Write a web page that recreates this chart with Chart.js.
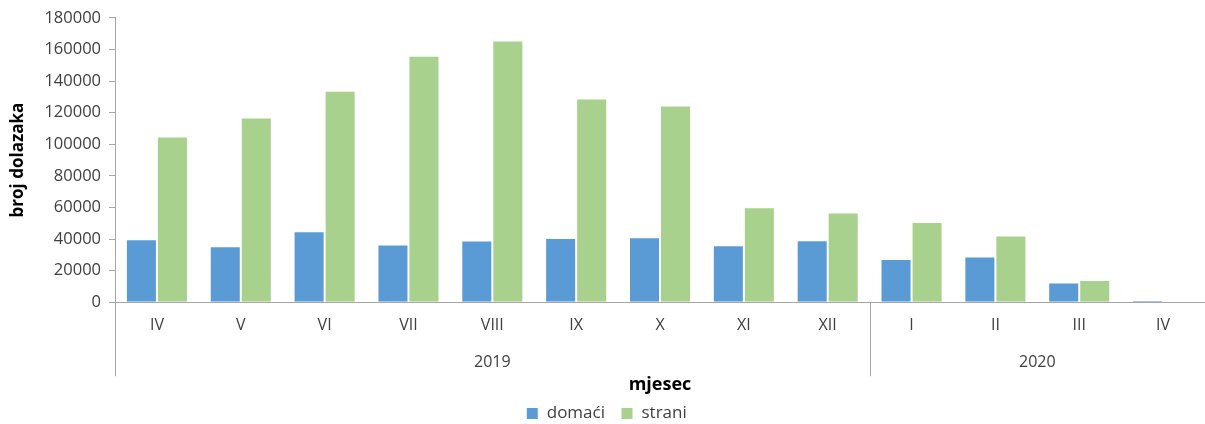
<!DOCTYPE html>
<html>
<head>
<meta charset="utf-8">
<script src="https://cdn.jsdelivr.net/npm/chart.js@4"></script>
<style>
  body { margin: 0; background: #fff; }
  #wrap { width: 1205px; height: 424px; position: relative; }
</style>
</head>
<body>
<div id="wrap"><canvas id="chart"></canvas></div>
<script>
const months = ["IV", "V", "VI", "VII", "VIII", "IX", "X", "XI", "XII", "I", "II", "III", "IV"];
const years = ["2019", "2020"];
const yearStart = [0, 9]; // index of first month of each year
const domaci = [39800, 35500, 45000, 36600, 39100, 40600, 41200, 36000, 39300, 27300, 29000, 12400, 1300];
const strani = [104900, 116900, 133900, 156000, 165700, 128900, 124500, 60100, 56800, 50700, 42300, 14100, 0];

const font = "'Open Sans', 'DejaVu Sans', sans-serif";
const textColor = "#404040";
const axisColor = "#a6a6a6";

// second label row (years) and the group separators under the months
const yearRow = {
  id: "yearRow",
  afterDraw(chart) {
    const x = chart.scales.x;
    const ctx = chart.ctx;
    const half = (x.getPixelForValue(1) - x.getPixelForValue(0)) / 2;
    ctx.save();
    ctx.strokeStyle = axisColor;
    ctx.lineWidth = 1;
    yearStart.forEach(i => {
      const px = Math.round(x.getPixelForValue(i) - half) + 0.5;
      ctx.beginPath();
      ctx.moveTo(px, x.top);
      ctx.lineTo(px, x.top + 74);
      ctx.stroke();
    });
    ctx.font = "16px " + font;
    ctx.fillStyle = textColor;
    ctx.textAlign = "center";
    ctx.textBaseline = "middle";
    years.forEach((y, i) => {
      const first = yearStart[i];
      const last = i + 1 < yearStart.length ? yearStart[i + 1] - 1 : months.length - 1;
      const cx = (x.getPixelForValue(first) + x.getPixelForValue(last)) / 2;
      ctx.fillText(y, cx, x.top + 60);
    });
    ctx.restore();
  }
};

new Chart(document.getElementById("chart"), {
  type: "bar",
  data: {
    labels: months,
    datasets: [
      { label: "domaći", data: domaci, backgroundColor: "#5b9bd5", borderColor: "#ffffff", borderWidth: 1 },
      { label: "strani", data: strani, backgroundColor: "#a9d18e", borderColor: "#ffffff", borderWidth: 1 }
    ]
  },
  options: {
    responsive: true,
    maintainAspectRatio: false,
    animation: false,
    layout: { padding: { top: 6, right: 0, left: 8, bottom: -8 } },
    datasets: { bar: { categoryPercentage: 0.74, barPercentage: 1.0 } },
    plugins: {
      legend: {
        position: "bottom",
        labels: {
          font: { family: font, size: 17 },
          color: textColor,
          boxWidth: 12,
          boxHeight: 12,
          padding: 16
        }
      },
      tooltip: { enabled: false }
    },
    scales: {
      x: {
        grid: { display: true, drawOnChartArea: false, drawTicks: false },
        border: { color: axisColor, width: 1 },
        ticks: {
          font: { family: font, size: 16 },
          color: textColor,
          maxRotation: 0,
          autoSkip: false,
          padding: 14
        },
        title: {
          display: true,
          text: "mjesec",
          font: { family: font, size: 18, weight: "bold" },
          color: "#000",
          padding: { top: 25, bottom: -7 }
        }
      },
      y: {
        min: 0,
        max: 180000,
        ticks: {
          stepSize: 20000,
          font: { family: font, size: 16.5 },
          color: textColor,
          padding: 8,
          callback: v => String(v)
        },
        grid: {
          drawOnChartArea: false,
          tickLength: 6,
          color: axisColor
        },
        border: { color: axisColor, width: 1 },
        title: {
          display: true,
          text: "broj dolazaka",
          font: { family: font, size: 17, weight: "bold" },
          color: "#000",
          padding: { top: 0, bottom: 8 }
        }
      }
    }
  },
  plugins: [yearRow]
});
</script>
</body>
</html>
